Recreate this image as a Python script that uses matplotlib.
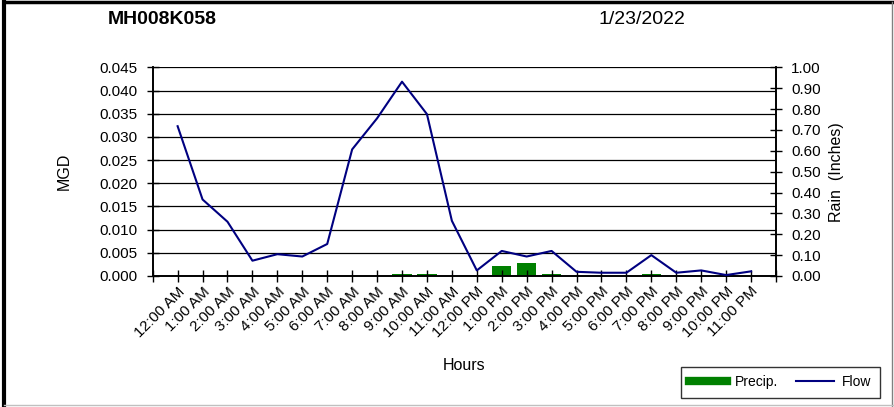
import matplotlib.pyplot as plt
from matplotlib.lines import Line2D

plt.rcParams['font.family'] = ['Liberation Sans', 'DejaVu Sans']

# data
hours = ["12:00 AM", "1:00 AM", "2:00 AM", "3:00 AM", "4:00 AM", "5:00 AM",
         "6:00 AM", "7:00 AM", "8:00 AM", "9:00 AM", "10:00 AM", "11:00 AM",
         "12:00 PM", "1:00 PM", "2:00 PM", "3:00 PM", "4:00 PM", "5:00 PM",
         "6:00 PM", "7:00 PM", "8:00 PM", "9:00 PM", "10:00 PM", "11:00 PM"]
flow = [0.0323, 0.0165, 0.0117, 0.0033, 0.0047, 0.0042,
        0.0069, 0.0273, 0.0340, 0.0419, 0.0349, 0.0119,
        0.0012, 0.0054, 0.0042, 0.0054, 0.0009, 0.0007,
        0.0007, 0.0045, 0.0007, 0.0012, 0.0002, 0.0010]
precip = [0, 0, 0, 0, 0, 0,
          0, 0, 0, 0.01, 0.01, 0,
          0, 0.05, 0.06, 0.01, 0, 0,
          0, 0.01, 0, 0, 0, 0]
flow_ticks = [0, 0.005, 0.010, 0.015, 0.020, 0.025, 0.030, 0.035, 0.040, 0.045]
rain_ticks = [0, 0.1, 0.2, 0.3, 0.4, 0.5, 0.6, 0.7, 0.8, 0.9, 1.0]

fig = plt.figure(figsize=(8.94, 4.07), dpi=100)
ax = fig.add_axes([0.1708, 0.3219, 0.868 - 0.1708, 0.8346 - 0.3219])
ax2 = ax.twinx()

x = list(range(len(hours)))

# rain bars on the secondary axis, flow line on top
ax2.bar(x, precip, width=0.78, color="#008000", zorder=2)
ax.set_zorder(ax2.get_zorder() + 1)
ax.patch.set_visible(False)
ax.plot(x, flow, color="#000080", lw=1.5, zorder=3)

ax.set_xlim(-1, 24)
ax.set_ylim(0, 0.045)
ax2.set_ylim(0, 1.0)

ax.set_yticks(flow_ticks)
ax.set_yticklabels([f"{v:.3f}" for v in flow_ticks], fontsize=11)
ax2.set_yticks(rain_ticks)
ax2.set_yticklabels([f"{v:.2f}" for v in rain_ticks], fontsize=11)

ax.set_xticks(range(-1, 25))
ax.set_xticklabels([""] + hours + [""], rotation=45, ha="right",
                   rotation_mode="anchor", fontsize=11)
ax.tick_params(axis="x", direction="inout", length=8, pad=2, width=1)
ax.tick_params(axis="y", direction="inout", length=8, pad=7, width=1)
ax2.tick_params(axis="y", direction="inout", length=8, pad=7, width=1)

for t in flow_ticks:
    ax2.axhline(t / 0.045, color="black", lw=0.9, zorder=1)

for a in (ax, ax2):
    a.spines["top"].set_visible(False)
    for s in ("left", "right", "bottom"):
        a.spines[s].set_linewidth(1.2)

ax.set_ylabel("MGD", fontsize=11.5, labelpad=20)
ax2.set_ylabel("Rain  (Inches)", fontsize=11.5, labelpad=6)
ax.set_xlabel("Hours", fontsize=11.5)
ax.xaxis.set_label_coords(0.5, -0.395)

fig.text(0.121, 0.953, "MH008K058", fontsize=14, fontweight="bold", va="center")
fig.text(0.669, 0.953, "1/23/2022", fontsize=14, va="center")

handles = [Line2D([], [], color="#008000", lw=6),
           Line2D([], [], color="#000080", lw=1.5)]
leg = fig.legend(handles, ["Precip.", "Flow"], ncol=2, fontsize=10,
                 loc="center", bbox_to_anchor=(0.873, 0.061),
                 frameon=True, fancybox=False, edgecolor="black",
                 handlelength=2.7, handletextpad=0.6, columnspacing=1.3,
                 borderpad=0.6)
leg.get_frame().set_linewidth(1.0)

# chart area border
fig.add_artist(Line2D([0.005, 0.005], [0, 0.995], color="black", lw=3, transform=fig.transFigure))
fig.add_artist(Line2D([0.005, 1], [0.995, 0.995], color="black", lw=2.5, transform=fig.transFigure))
fig.add_artist(Line2D([0.998, 0.998], [0, 0.995], color="#808080", lw=1, transform=fig.transFigure))
fig.add_artist(Line2D([0.005, 1], [0.004, 0.004], color="#c0c0c0", lw=1, transform=fig.transFigure))

fig.savefig("out.png", dpi=100)
